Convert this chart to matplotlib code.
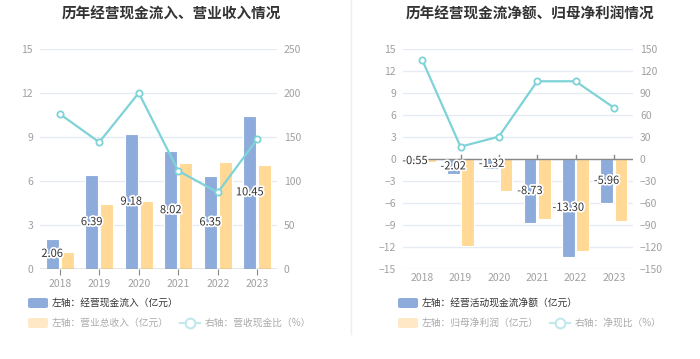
import matplotlib
matplotlib.use("Agg")
import matplotlib.pyplot as plt
import matplotlib.patheffects as pe
from matplotlib.patches import FancyBboxPatch
from matplotlib.lines import Line2D
import numpy as np

plt.rcParams['font.family'] = ['Noto Sans CJK SC', 'DejaVu Sans']

years = ['2018', '2019', '2020', '2021', '2022', '2023']

# Left chart
cash_inflow = [2.06, 6.39, 9.18, 8.02, 6.35, 10.45]
revenue = [1.16, 4.45, 4.61, 7.22, 7.28, 7.10]
cash_rev_ratio = [176.2, 144.1, 200.1, 111.6, 87.0, 147.5]

# Right chart
net_cash = [-0.55, -2.02, -1.32, -8.73, -13.30, -5.96]
net_profit = [-0.4, -11.8, -4.3, -8.2, -12.6, -8.5]
net_ratio = [135.2, 16.8, 30.5, 106.0, 106.0, 70.1]

BLUE = '#8eacdb'
ORANGE = '#ffd995'
CYAN = '#7ed3d8'
TICK = '#a0a0a0'
GRID = '#e6ebf3'
FS = 7.5

fig = plt.figure(figsize=(7.0, 3.59), dpi=100)
W, H = 700, 359

def make_axes(x0, x1, y_top, y_bot):
    return fig.add_axes([x0 / W, (H - y_bot) / H, (x1 - x0) / W, (y_bot - y_top) / H])

def style(ax, ax2):
    for a in (ax, ax2):
        for s in a.spines.values():
            s.set_visible(False)
        a.tick_params(axis='y', length=0, colors=TICK, labelsize=FS, pad=5)
    ax.tick_params(axis='x', length=4, color='#888888', colors=TICK, labelsize=FS, pad=3)
    ax2.tick_params(axis='x', length=0)
    ax.grid(axis='y', color=GRID, linewidth=1)
    ax.set_axisbelow(True)

def draw(ax, ax2, blue, orange, ratio, ylim, yticks, y2lim, y2ticks):
    x = np.arange(len(years))
    bw = 0.33
    ax.bar(x - 0.19, blue, width=bw, color=BLUE, edgecolor='white', linewidth=0.8, zorder=2)
    ax.bar(x + 0.19, orange, width=bw, color=ORANGE, edgecolor='white', linewidth=0.8, zorder=2)
    for xi, v in zip(x, blue):
        ax.text(xi - 0.19, v / 2, f'{v:.2f}', ha='center', va='center', fontsize=FS + 0.5,
                color='#333333', zorder=5,
                path_effects=[pe.withStroke(linewidth=2.5, foreground='white')])
    ax.set_xlim(-0.5, len(years) - 0.5)
    ax.set_ylim(*ylim)
    ax.set_yticks(yticks)
    ax.set_xticks(x)
    ax.set_xticklabels(years)
    ax2.plot(x, ratio, color=CYAN, linewidth=1.6, marker='o', markersize=4.5,
             markerfacecolor='white', markeredgecolor=CYAN, markeredgewidth=1.3, zorder=6)
    ax2.set_ylim(*y2lim)
    ax2.set_yticks(y2ticks)
    style(ax, ax2)

# Left panel
axL = make_axes(40, 277, 49, 269)
axL2 = axL.twinx()
draw(axL, axL2, cash_inflow, revenue, cash_rev_ratio, (0, 15), [0, 3, 6, 9, 12, 15],
     (0, 250), [0, 50, 100, 150, 200, 250])
axL.axhline(0, color='#888888', linewidth=1, zorder=3)

# Right panel
axR = make_axes(403, 633, 49, 269)
axR2 = axR.twinx()
draw(axR, axR2, net_cash, net_profit, net_ratio, (-15, 15), list(range(-15, 16, 3)),
     (-150, 150), list(range(-150, 151, 30)))
axR.axhline(0, color='#888888', linewidth=1, zorder=3)
axR.tick_params(axis='x', length=0)
for xi in range(len(years)):
    axR.plot([xi, xi], [0, 0.5], color='#888888', linewidth=1, zorder=3, clip_on=False)

# Titles
fig.text(171 / W, 1 - 14 / H, '历年经营现金流入、营业收入情况', ha='center', va='center',
         fontsize=10.5, fontweight='bold', color='#333333')
fig.text(530 / W, 1 - 14 / H, '历年经营现金流净额、归母净利润情况', ha='center', va='center',
         fontsize=10.5, fontweight='bold', color='#333333')

# Separator
fig.add_artist(Line2D([351 / W, 351 / W], [1.0, 1 - 334 / H], color='#eeeeee', linewidth=1))

def legend(x_rect, text1, text2, x_line, text3):
    y1 = 303
    y2 = 323
    for (y, col, txt, tc) in [(y1, BLUE, text1, '#333333'), (y2, '#ffe8c6', text2, '#aaaaaa')]:
        p = FancyBboxPatch((x_rect / W, (H - y - 5) / H), 20 / W, 10 / H,
                           boxstyle='round,pad=0,rounding_size=0.004',
                           transform=fig.transFigure, facecolor=col, edgecolor='none')
        fig.add_artist(p)
        fig.text((x_rect + 24) / W, 1 - y / H, txt, ha='left', va='center', fontsize=7, color=tc)
    fig.add_artist(Line2D([x_line / W, (x_line + 20) / W], [1 - y2 / H, 1 - y2 / H],
                          color='#bfe9ec', linewidth=1.5))
    fig.add_artist(Line2D([(x_line + 10) / W], [1 - y2 / H], marker='o', markersize=7,
                          markerfacecolor='white', markeredgecolor='#bfe9ec', markeredgewidth=1.5))
    fig.text((x_line + 25) / W, 1 - y2 / H, text3, ha='left', va='center', fontsize=7, color='#aaaaaa')

legend(28, '左轴：经营现金流入（亿元）', '左轴：营业总收入（亿元）', 180, '右轴：营收现金比（%）')
legend(398, '左轴：经营活动现金流净额（亿元）', '左轴：归母净利润（亿元）', 550, '右轴：净现比（%）')

fig.savefig('out.png', dpi=100, facecolor='white')
